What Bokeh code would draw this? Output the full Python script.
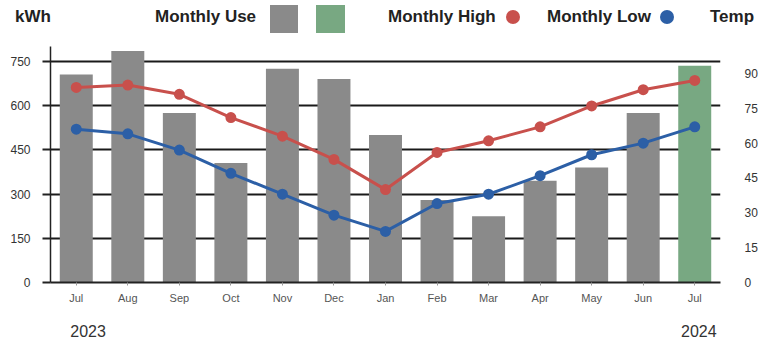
from bokeh.plotting import figure
from bokeh.models import Range1d, LinearAxis, FixedTicker, ColumnDataSource, Div
from bokeh.layouts import column
from bokeh.embed import file_html
from bokeh.resources import INLINE

# ---- data ----
months = ["Jul", "Aug", "Sep", "Oct", "Nov", "Dec", "Jan", "Feb", "Mar", "Apr", "May", "Jun", "Jul"]
monthly_use_kwh = [705, 785, 575, 405, 725, 690, 500, 280, 225, 345, 390, 575, 735]
monthly_high = [84, 85, 81, 71, 63, 53, 40, 56, 61, 67, 76, 83, 87]
monthly_low = [66, 64, 57, 47, 38, 29, 22, 34, 38, 46, 55, 60, 67]
kwh_ticks = [0, 150, 300, 450, 600, 750]
temp_ticks = [0, 15, 30, 45, 60, 75, 90]
years = ["2023", "2024"]
legend_labels = ["kWh", "Monthly Use", "Monthly High", "Monthly Low", "Temp"]

FONT = "Liberation Sans"
GRAY = "#8a8a8a"
GREEN = "#78a882"
RED = "#c8504c"
BLUE = "#2c5fa6"

# ---- header strip (legend) ----
def span(txt, left):
    return (f'<span style="position:absolute;left:{left}px;top:7px;white-space:nowrap;'
            f'font-family:\'{FONT}\';font-weight:bold;font-size:17px;line-height:20px;color:#222">{txt}</span>')

def box(left, top, w, h, color, radius="0"):
    return (f'<div style="position:absolute;left:{left}px;top:{top}px;width:{w}px;height:{h}px;'
            f'background:{color};border-radius:{radius}"></div>')

html = ('<div style="position:relative;width:760px;height:40px;overflow:hidden;background:white">'
        + span(legend_labels[0], 15)
        + span(legend_labels[1], 155)
        + box(270, 5, 28, 28, GRAY)
        + box(316, 5, 29, 28, GREEN)
        + span(legend_labels[2], 388)
        + box(506, 10, 14, 14, RED, "50%")
        + span(legend_labels[3], 547)
        + box(660, 10, 14, 14, BLUE, "50%")
        + span(legend_labels[4], 710)
        + '</div>')
hdr = Div(text=html, width=760, height=40, margin=(0, 0, 0, 0))

# ---- main chart ----
n = len(months)
xs = list(range(n))
bar_colors = [GRAY] * (n - 1) + [GREEN]
src = ColumnDataSource(dict(x=xs, use=monthly_use_kwh, high=monthly_high, low=monthly_low, color=bar_colors))

p = figure(width=760, height=299, x_range=Range1d(-0.5, n - 0.5), y_range=Range1d(0, 800),
           toolbar_location=None, output_backend="svg",
           min_border_left=50, min_border_right=37, min_border_top=6, min_border_bottom=56,
           outline_line_color=None, background_fill_color="white")
p.extra_y_ranges = {"temp": Range1d(0, 101.6)}

p.vbar(x="x", top="use", width=0.64, fill_color="color", line_color=None, source=src)
p.line(x="x", y="high", line_color=RED, line_width=3, y_range_name="temp", source=src)
p.scatter(x="x", y="high", size=11, fill_color=RED, line_color=None, y_range_name="temp", source=src)
p.line(x="x", y="low", line_color=BLUE, line_width=3, y_range_name="temp", source=src)
p.scatter(x="x", y="low", size=11, fill_color=BLUE, line_color=None, y_range_name="temp", source=src)

# grid
p.xgrid.visible = False
p.ygrid.ticker = FixedTicker(ticks=kwh_ticks[1:])
p.ygrid.grid_line_color = "#1a1a1a"
p.ygrid.grid_line_width = 2
p.ygrid.level = "underlay"

# left axis
ya = p.yaxis[0]
ya.ticker = FixedTicker(ticks=kwh_ticks)
ya.axis_line_color = "#222222"
ya.axis_line_width = 1.5
ya.major_tick_out = 8
ya.major_tick_in = 0
ya.major_tick_line_color = "#222222"
ya.major_tick_line_width = 2
ya.minor_tick_line_color = None
ya.major_label_standoff = 12
ya.major_label_text_font = FONT
ya.major_label_text_font_size = "12px"
ya.major_label_text_color = "#333333"

# right axis
ra = LinearAxis(y_range_name="temp", ticker=FixedTicker(ticks=temp_ticks))
ra.axis_line_color = None
ra.major_tick_line_color = None
ra.minor_tick_line_color = None
ra.major_label_standoff = 18
ra.major_label_text_font = FONT
ra.major_label_text_font_size = "12px"
ra.major_label_text_color = "#333333"
p.add_layout(ra, "right")

# x axis (months)
xa = p.xaxis[0]
xa.ticker = FixedTicker(ticks=xs)
xa.major_label_overrides = {i: m for i, m in enumerate(months)}
xa.axis_line_color = "#222222"
xa.axis_line_width = 2
xa.major_tick_line_color = "#999999"
xa.major_tick_out = 3
xa.major_tick_in = 0
xa.minor_tick_line_color = None
xa.major_label_standoff = 6
xa.major_label_text_font = FONT
xa.major_label_text_font_size = "11px"
xa.major_label_text_color = "#555555"

# second x axis (years), below the months
year_pos = [0 + 0.23, (n - 1) + 0.08]
ya2 = LinearAxis(ticker=FixedTicker(ticks=year_pos))
ya2.major_label_overrides = {year_pos[0]: years[0], year_pos[1]: years[1]}
ya2.axis_line_color = None
ya2.major_tick_line_color = None
ya2.minor_tick_line_color = None
ya2.major_label_standoff = 12
ya2.major_label_text_font = FONT
ya2.major_label_text_font_size = "16px"
ya2.major_label_text_color = "#333333"
p.add_layout(ya2, "below")

layout = column(hdr, p, spacing=0)
open("out.html", "w").write(file_html(layout, INLINE))
